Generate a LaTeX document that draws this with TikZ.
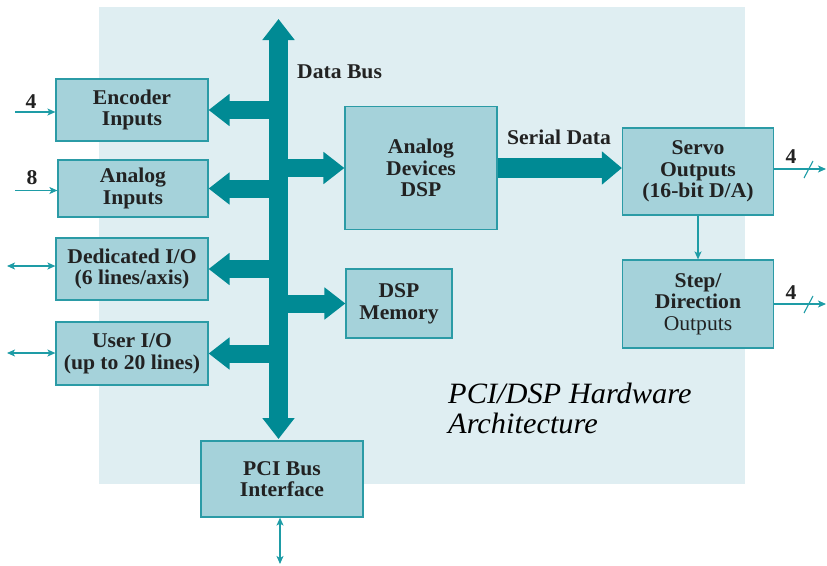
\documentclass[tikz,border=0pt]{standalone}
\usepackage{fontspec}
\setmainfont{Liberation Serif}[FakeStretch=1.03]
\usetikzlibrary{arrows.meta}
\definecolor{bgc}{HTML}{DFEEF2}
\definecolor{busc}{HTML}{008A94}
\definecolor{boxfill}{HTML}{A5D2DA}
\definecolor{boxline}{HTML}{2B9BA6}
\definecolor{txt}{HTML}{222222}
\definecolor{thinc}{HTML}{1E9CA6}
\begin{document}
\begin{tikzpicture}[x=1pt,y=-1pt,
  blk/.style={draw=boxline, line width=1.2pt, fill=boxfill, text=txt, align=center, inner sep=0pt,
    font=\bfseries\fontsize{21}{21.7}\selectfont},
  fatarrow/.style={draw=busc, line width=18pt, -{Triangle[length=21pt,width=31pt]}},
  busarrow/.style={draw=busc, line width=19pt, {Triangle[length=21pt,width=31pt]}-{Triangle[length=21pt,width=31pt]}},
  serialarrow/.style={draw=busc, line width=20pt, -{Triangle[length=20pt,width=32pt]}},
  thin/.style={draw=thinc, line width=1.2pt, -{Stealth[length=8pt,width=7pt,inset=2pt]}},
  thinboth/.style={draw=thinc, line width=1.2pt, {Stealth[length=8pt,width=7pt,inset=2pt]}-{Stealth[length=8pt,width=7pt,inset=2pt]}},
  lbl/.style={text=txt, font=\bfseries\fontsize{21}{22}\selectfont, inner sep=0pt},
  title/.style={text=black, font=\itshape\fontsize{29.5}{30}\selectfont, align=left, inner sep=0pt, anchor=north west}
]
\useasboundingbox (0,0) rectangle (827,565);
% background panel
\fill[bgc] (99,7) rectangle (745,484);

% blocks
\node[blk, minimum width=152pt, minimum height=62pt] (enc) at (132,110) {Encoder\\Inputs};
\node[blk, minimum width=150pt, minimum height=57pt] (ana) at (133,188.5) {Analog\\Inputs};
\node[blk, minimum width=152pt, minimum height=62pt] (ded) at (132,269) {Dedicated I/O\\(6 lines/axis)};
\node[blk, minimum width=152pt, minimum height=63pt] (usr) at (132,353.5) {User I/O\\(up to 20 lines)};
\node[blk, minimum width=152pt, minimum height=123pt] (dsp) at (421,168) {Analog\\Devices\\DSP};
\node[blk, minimum width=106pt, minimum height=69pt] (mem) at (399,303.5) {DSP\\Memory};
\node[blk, minimum width=151pt, minimum height=87pt] (servo) at (698,171.5) {Servo\\Outputs\\(16-bit D/A)};
\node[blk, minimum width=151pt, minimum height=88pt] (step) at (698,304) {Step/\\Direction\\\mdseries Outputs};
\node[blk, minimum width=162pt, minimum height=76pt] (pci) at (282,479) {PCI Bus\\Interface};

% data bus
\coordinate (btop) at (278.5,19);
\coordinate (bbot) at (278.5,439);
\draw[busarrow] (btop) -- (bbot);
\draw[fatarrow] (btop |- enc.east) -- (enc.east);
\draw[fatarrow] (btop |- ana.east) -- (ana.east);
\draw[fatarrow] (btop |- ded.east) -- (ded.east);
\draw[fatarrow] (btop |- usr.east) -- (usr.east);
\draw[fatarrow] (btop |- dsp.west) -- (dsp.west);
\draw[fatarrow] (btop |- mem.west) -- (mem.west);
\node[lbl, anchor=west] (dbus) at (297,72) {Data Bus};

% serial data
\draw[serialarrow] (dsp.east) -- (servo.west |- dsp.east);
\node[lbl] (sdata) at (559,137) {Serial Data};

% inputs
\coordinate (encin) at (15,112);
\coordinate (anain) at (15,190.5);
\coordinate (dedin) at (7,266);
\coordinate (usrin) at (7,353);
\draw[thin] (encin) -- (enc.west |- encin);
\draw[thin] (anain) -- (ana.west |- anain);
\draw[thinboth] (dedin) -- (ded.west |- dedin);
\draw[thinboth] (usrin) -- (usr.west |- usrin);
\node[lbl] (n4) at (31,102) {4};
\node[lbl] (n8) at (32,178) {8};

% outputs
\coordinate (servoout) at (826,169);
\coordinate (stepout) at (826,304);
\draw[thin] (servo.east |- servoout) -- (servoout);
\draw[thin] (step.east |- stepout) -- (stepout);
\draw[thinc, line width=1.1pt] (804,178) -- (813,161);
\draw[thinc, line width=1.1pt] (804,313) -- (813,296);
\node[lbl] (o4a) at (791,157) {4};
\node[lbl] (o4b) at (791,293) {4};
\draw[thin] (servo.south) -- (step.north);

% PCI bus
\coordinate (pcibot) at (280,564);
\draw[thinboth] (pci.south -| pcibot) -- (pcibot);

% title
\node[title] (ttl) at (448,383) {PCI/DSP Hardware\\Architecture};
\end{tikzpicture}
\end{document}
